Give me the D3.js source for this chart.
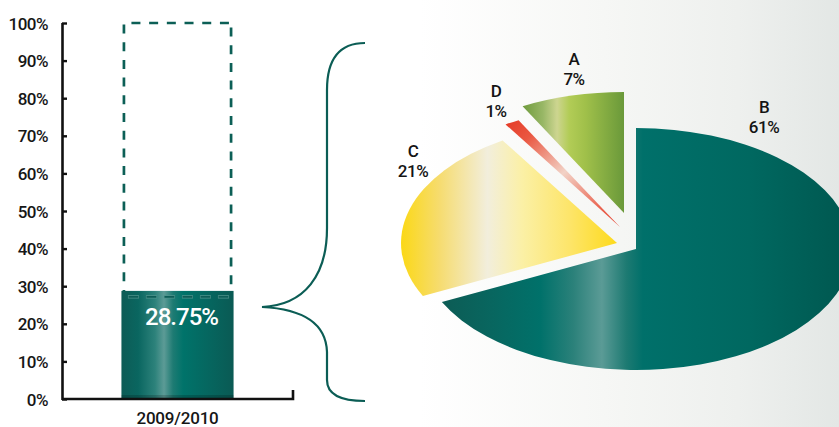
<!DOCTYPE html>
<html>
<head>
<meta charset="utf-8">
<script src="https://cdn.jsdelivr.net/npm/d3@7"></script>
<style>
  html, body { margin: 0; padding: 0; background: #ffffff; }
  svg { display: block; }
  text { font-family: Roboto, "DejaVu Sans Condensed", sans-serif; font-weight: 500; }
</style>
</head>
<body>
<script>
// ---------- DATA ----------
const barCategories = ["2009/2010"];
const barValues = [28.75];
const barMax = [100];
const yTicks = [0, 10, 20, 30, 40, 50, 60, 70, 80, 90, 100];

const pieLabels = ["B", "C", "D", "A"];
const pieValues = [61, 21, 1, 7];

// ---------- LAYOUT ----------
const W = 839, H = 427;
const FONT = 'Roboto, "DejaVu Sans Condensed", sans-serif';
const svg = d3.select("body").append("svg").attr("width", W).attr("height", H);
const defs = svg.append("defs");

function linGrad(id, stops, x1 = 0, y1 = 0, x2 = 1, y2 = 0) {
  const g = defs.append("linearGradient").attr("id", id)
    .attr("x1", x1).attr("y1", y1).attr("x2", x2).attr("y2", y2);
  stops.forEach(s => g.append("stop").attr("offset", s[0]).attr("stop-color", s[1]));
  return "url(#" + id + ")";
}

// background
const bgFill = linGrad("bg", [[0, "#ffffff"], [0.5, "#ffffff"], [0.72, "#f6f7f5"], [0.88, "#eef0ee"], [1, "#e3e7e5"]]);
svg.append("rect").attr("width", W).attr("height", H).attr("fill", bgFill);

// ---------- BAR CHART ----------
const y = d3.scaleLinear().domain([0, 100]).range([399, 23]);
const x = d3.scaleBand().domain(barCategories).range([62, 293]).paddingOuter(0.53).paddingInner(0);

const barFill = linGrad("barG", [
  [0, "#0d5c56"], [0.15, "#0a6660"], [0.3, "#2d827b"], [0.38, "#5c9b96"],
  [0.46, "#1e7b73"], [0.55, "#00736a"], [0.8, "#06655e"], [1, "#0a5a54"]]);

const bars = svg.append("g");
bars.selectAll("rect.bar").data(barValues).join("rect")
  .attr("class", "bar")
  .attr("x", (d, i) => x(barCategories[i]))
  .attr("width", x.bandwidth())
  .attr("y", d => y(d))
  .attr("height", d => y(0) - y(d))
  .attr("fill", barFill);

bars.selectAll("rect.shade").data(barValues).join("rect")
  .attr("class", "shade")
  .attr("x", (d, i) => x(barCategories[i]))
  .attr("width", x.bandwidth())
  .attr("y", y(0) - 4)
  .attr("height", 4)
  .attr("fill", "rgba(0,0,0,0.18)");

// dashed 100% outline
const dashColor = "#0c5f56";
barMax.forEach((m, i) => {
  const x0 = x(barCategories[i]) + 2.5, x1 = x(barCategories[i]) + x.bandwidth() - 2.5;
  const g = bars.append("g").attr("stroke", dashColor).attr("stroke-width", 2.7)
    .attr("stroke-dasharray", "9,8.7").attr("fill", "none");
  g.append("line").attr("x1", x0).attr("x2", x0).attr("y1", y(m) + 1.5).attr("y2", y(barValues[i]));
  g.append("line").attr("x1", x0 + 7.5).attr("x2", x1).attr("y1", y(m)).attr("y2", y(m));
  g.append("line").attr("x1", x1).attr("x2", x1).attr("y1", y(m) + 4.5).attr("y2", y(barValues[i]));
  // row of outlined dashes just inside the top of the bar
  const yy = y(barValues[i]) + 6;
  bars.append("line").attr("x1", x0 + 4).attr("x2", x1).attr("y1", yy).attr("y2", yy)
    .attr("stroke", "#4f928b").attr("stroke-width", 3.4).attr("stroke-dasharray", "11,7");
  bars.append("line").attr("x1", x0 + 4.6).attr("x2", x1).attr("y1", yy).attr("y2", yy)
    .attr("stroke", "#0d5d57").attr("stroke-width", 1.6).attr("stroke-dasharray", "9.8,8.2");
});

// value label
bars.selectAll("text.val").data(barValues).join("text")
  .attr("class", "val")
  .attr("x", (d, i) => x(barCategories[i]) + x.bandwidth() / 2 + 4)
  .attr("y", d => y(d) + 34)
  .attr("text-anchor", "middle")
  .attr("fill", "#ffffff")
  .attr("font-size", 24)
  .attr("letter-spacing", -1)
  .text(d => d.toFixed(2) + "%");

// y axis
const yAxis = d3.axisLeft(y).tickValues(yTicks).tickFormat(d => d + "%")
  .tickSizeInner(-5).tickSizeOuter(0).tickPadding(14);
const gy = svg.append("g").attr("transform", "translate(62,0)").call(yAxis);
gy.select(".domain").attr("stroke", "#111").attr("stroke-width", 2.6)
  .attr("d", `M0.5,${y(100)}V${y(0) + 1}`);
gy.selectAll(".tick line").attr("stroke", "#111").attr("stroke-width", 2.4);
gy.selectAll(".tick text").attr("font-size", 17).attr("fill", "#161616")
  .attr("font-family", FONT).attr("font-weight", 500).attr("letter-spacing", -0.5)
  .attr("dy", "0.36em");

// x axis baseline with end tick
const xr = x.range();
svg.append("path")
  .attr("d", `M${xr[0]},${y(0)}H${xr[1]}V${y(0) - 9}`)
  .attr("fill", "none").attr("stroke", "#111").attr("stroke-width", 2.6);

svg.selectAll("text.cat").data(barCategories).join("text")
  .attr("class", "cat")
  .attr("x", d => x(d) + x.bandwidth() / 2)
  .attr("y", 424)
  .attr("text-anchor", "middle")
  .attr("font-size", 17)
  .attr("letter-spacing", -0.2)
  .attr("fill", "#161616")
  .text(d => d);

// ---------- BRACE ----------
svg.append("path")
  .attr("d", "M365,43 C341,43 327,57 327,90 L327,228 C327,275 305,305 262,307 C302,309 326,322 327,352 L327,380 C327,394 340,401 365,401")
  .attr("fill", "none").attr("stroke", "#0b5d55").attr("stroke-width", 2.2);

// ---------- PIE ----------
const pieCx = 624, pieCy = 240, rx = 216, ry = 121;
const explode = { B: [12, 9], C: [-7, 3], D: [-4, -13], A: [0, -27] };
const pieFills = {
  B: linGrad("gB", [[0, "#0d5c55"], [0.12, "#08665f"], [0.24, "#00716a"], [0.32, "#2b817a"],
    [0.39, "#5b9b96"], [0.45, "#1d7a72"], [0.49, "#00706a"], [0.75, "#006860"], [1, "#00574f"]]),
  C: linGrad("gC", [[0, "#fbd816"], [0.18, "#f6dc70"], [0.40, "#f2eedc"], [0.56, "#fbf0a6"],
    [0.78, "#fde56a"], [1, "#fdda1c"]]),
  D: linGrad("gD", [[0, "#e53a26"], [0.18, "#ea5842"], [0.5, "#f2d2c6"], [0.82, "#ea6652"], [1, "#e53b28"]], 0, 0, 1, 1),
  A: linGrad("gA", [[0, "#6f9b3d"], [0.2, "#98b766"], [0.34, "#cdd590"], [0.46, "#b2cc56"],
    [0.62, "#a0c04a"], [1, "#6a993a"]])
};

const pieData = pieLabels.map((l, i) => ({ label: l, value: pieValues[i] }));
const pie = d3.pie().sort(null).value(d => d.value).startAngle(0).endAngle(2 * Math.PI);
const arc = d3.arc().innerRadius(0).outerRadius(rx);
const arcs = pie(pieData);

const gp = svg.append("g");
gp.selectAll("g.slice").data(arcs).join("g")
  .attr("class", "slice")
  .attr("transform", d => {
    const o = explode[d.data.label];
    return `translate(${pieCx + o[0]},${pieCy + o[1]}) scale(1,${ry / rx})`;
  })
  .append("path")
  .attr("d", arc)
  .attr("fill", d => pieFills[d.data.label]);

// labels
const labelPos = {
  B: [764, 113], C: [413, 157], D: [496, 97], A: [574, 65]
};
const lg = svg.append("g");
arcs.forEach(a => {
  const p = labelPos[a.data.label];
  const t = lg.append("text").attr("x", p[0]).attr("y", p[1])
    .attr("text-anchor", "middle").attr("font-size", 17).attr("letter-spacing", -0.5)
    .attr("fill", "#141414");
  t.append("tspan").attr("x", p[0]).text(a.data.label);
  t.append("tspan").attr("x", p[0]).attr("dy", 20).text(a.data.value + "%");
});
</script>
</body>
</html>
